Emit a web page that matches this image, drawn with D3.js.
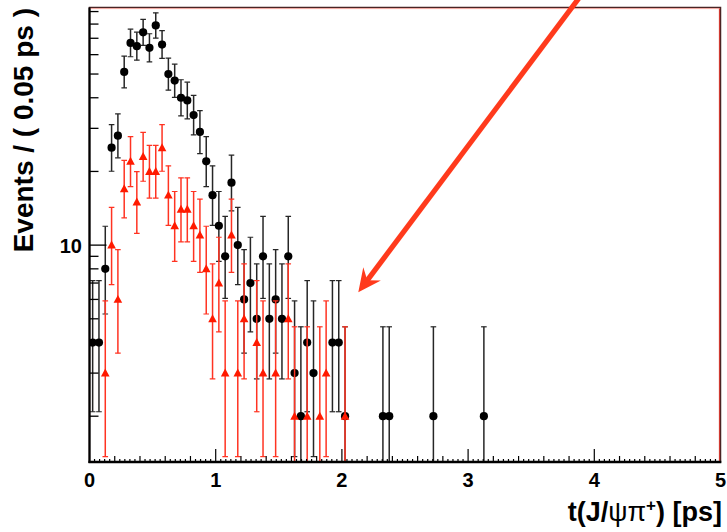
<!DOCTYPE html>
<html>
<head>
<meta charset="utf-8">
<script src="https://cdn.jsdelivr.net/npm/d3@7"></script>
<style>
html,body{margin:0;padding:0;background:#fff;}
svg{display:block;}
text{font-family:"Liberation Sans",Arial,Helvetica,sans-serif;font-weight:bold;fill:#000;}
</style>
</head>
<body>
<svg id="chart" width="727" height="532"></svg>
<script>
// ---- data (counts per 0.05 ps bin) ----
const blackT = [0.025,0.075,0.125,0.175,0.225,0.275,0.325,0.375,0.425,0.475,0.525,0.575,0.625,0.675,0.725,0.775,0.825,0.875,0.925,0.975,1.025,1.075,1.125,1.175,1.225,1.275,1.325,1.375,1.425,1.475,1.525,1.575,1.625,1.675,1.725,1.775,1.925,1.975,2.025,2.325,2.375,2.725,3.125];
const blackN = [4,4,8,25,28,51,67,65,74,64,79,66,50,47,40,39,34,29,22,16,12,9,18,10,6,7,5,9,5,6,5,9,3,2,4,3,4,4,2,2,2,2,2];
const redT = [0.125,0.175,0.225,0.275,0.325,0.375,0.425,0.475,0.525,0.575,0.625,0.675,0.725,0.775,0.825,0.875,0.925,0.975,1.025,1.075,1.125,1.175,1.225,1.325,1.375,1.475,1.575,1.625,1.725,1.825,1.875,2.025];
const redN = [3,10,6,17,22,15,23,20,20,25,16,12,14,14,12,11,8,5,7,3,11,3,5,4,3,3,5,2,2,2,3,2];
const xTickLabels = ["0","1","2","3","4","5"];
const yTickLabels = ["10"];
const yTitle = "Events / ( 0.05 ps )";

// ---- Poisson 68.27% central interval (as RooFit draws the points) ----
function poisCDF(k, mu){
  if (k < 0) return 0;
  let term = Math.exp(-mu), s = term;
  for (let i = 1; i <= k; i++){ term *= mu / i; s += term; }
  return s;
}
const ALPHA2 = 0.158655;
// f is positive below the root, negative above it
function bisect(f, lo, hi){
  for (let i = 0; i < 80; i++){ const m = (lo+hi)/2; if (f(m) > 0) lo = m; else hi = m; }
  return (lo+hi)/2;
}
function interval(n){
  const up = bisect(mu => poisCDF(n, mu) - ALPHA2, n, n + 10*Math.sqrt(n) + 10);
  const lo = n === 0 ? 0 : bisect(mu => poisCDF(n-1, mu) - (1 - ALPHA2), 0, n);
  return [lo, up];
}

// ---- layout ----
const svg = d3.select("#chart");
const L = 89.5, R = 720.5, T = 7.5, B = 462;
const x = d3.scaleLinear().domain([0,5]).range([L,R]);
const y = d3.scaleLog().domain([1.3, 93.5]).range([B,T]);

svg.append("defs").append("clipPath").attr("id","clip")
  .append("rect").attr("x",L).attr("y",T).attr("width",R-L).attr("height",B-T);

// frame (top/right)
svg.append("rect").attr("x",L).attr("y",T).attr("width",R-L).attr("height",B-T)
  .attr("fill","none").attr("stroke","#4a2424").attr("stroke-width",1.5);
svg.append("line").attr("x1",L).attr("x2",R-1.2).attr("y1",T+1.1).attr("y2",T+1.1)
  .attr("stroke","#f3a8a0").attr("stroke-width",1);
svg.append("line").attr("x1",R-1.1).attr("x2",R-1.1).attr("y1",T+1).attr("y2",B)
  .attr("stroke","#d02a20").attr("stroke-width",1);

const plot = svg.append("g").attr("clip-path","url(#clip)");

function drawSeries(ts, ns, color, barColor, shape){
  const pts = ts.map((t,i)=>({t, n:ns[i], iv:interval(ns[i])}));
  const g = plot.append("g");
  pts.forEach(p=>{
    const cx = x(p.t), y1 = y(Math.max(p.iv[0], 0.5)), y2 = y(p.iv[1]);
    g.append("line").attr("x1",cx).attr("x2",cx).attr("y1",y1).attr("y2",y2)
      .attr("stroke",barColor).attr("stroke-width",1.5);
    [p.iv[0] > 0.5 ? y(p.iv[0]) : null, y2].forEach(yy=>{
      if (yy === null) return;
      g.append("line").attr("x1",cx-2.8).attr("x2",cx+2.8).attr("y1",yy).attr("y2",yy)
        .attr("stroke",barColor).attr("stroke-width",1.2);
    });
  });
  pts.forEach(p=>{
    const cx = x(p.t), cy = y(p.n);
    if (shape === "circle"){
      g.append("circle").attr("cx",cx).attr("cy",cy).attr("r",4.1).attr("fill",color);
    } else {
      const s = 4.3;
      g.append("path").attr("d",`M${cx},${cy-s*1.05}L${cx+s},${cy+s*0.8}L${cx-s},${cy+s*0.8}Z`).attr("fill",color);
    }
  });
}
drawSeries(blackT, blackN, "#000", "#262626", "circle");
drawSeries(redT, redN, "#ff1a00", "#ff3322", "triangle");

// axes lines
svg.append("line").attr("x1",L).attr("x2",L).attr("y1",T).attr("y2",B+1)
  .attr("stroke","#000").attr("stroke-width",2.2);
svg.append("line").attr("x1",L-1).attr("x2",R+0.8).attr("y1",B).attr("y2",B)
  .attr("stroke","#000").attr("stroke-width",2.6);

// x ticks
const xt = svg.append("g");
d3.range(0, 5.0001, 0.04).forEach(v=>{
  const r5 = Math.round(v*25)/25;
  const isMaj = Math.abs(r5 - Math.round(r5)) < 1e-6;
  const isMid = Math.abs(r5*5 - Math.round(r5*5)) < 1e-6;
  const len = isMaj ? 13 : (isMid ? 6 : 3);
  if (r5 <= 0 || r5 >= 5) return;
  xt.append("line").attr("x1",x(r5)).attr("x2",x(r5)).attr("y1",B).attr("y2",B-len)
    .attr("stroke","#000").attr("stroke-width",1.2);
});
xTickLabels.forEach(lab=>{
  svg.append("text").attr("x",x(+lab)).attr("y",487).attr("text-anchor","middle")
    .attr("font-size",20).text(lab);
});

// y ticks
const yt = svg.append("g");
[2,3,4,5,6,7,8,9,10,20,30,40,50,60,70,80,90].forEach(v=>{
  const len = v === 10 ? 17 : 9;
  yt.append("line").attr("x1",L).attr("x2",L+len).attr("y1",y(v)).attr("y2",y(v))
    .attr("stroke","#000").attr("stroke-width",1.3);
});
yTickLabels.forEach(lab=>{
  svg.append("text").attr("x",82).attr("y",y(+lab)+8).attr("text-anchor","end")
    .attr("font-size",20).text(lab);
});

// titles
const xt2 = svg.append("text").attr("x",722).attr("y",521).attr("text-anchor","end").attr("font-size",27);
xt2.append("tspan").text("t(J/");
xt2.append("tspan").attr("font-weight","normal").text("ψπ");
xt2.append("tspan").attr("font-size",17).attr("dy",-10).text("+");
xt2.append("tspan").attr("dy",10).text(") [ps]");

svg.append("text").attr("transform","translate(33,8) rotate(-90)").attr("text-anchor","end")
  .attr("font-size",28).text(yTitle);

// annotation arrow
const tip = [358.3, 292.3], u = [-0.6, 0.8], n = [0.8, 0.6];
const tail = [tip[0] - 390*u[0], tip[1] - 390*u[1]];
const along = (d, w) => [tip[0] - d*u[0] + w*n[0], tip[1] - d*u[1] + w*n[1]];
svg.append("line").attr("x1",tail[0]).attr("y1",tail[1])
  .attr("x2",along(14,0)[0]).attr("y2",along(14,0)[1])
  .attr("stroke","#ff3a1c").attr("stroke-width",5.2);
svg.append("path").attr("d", "M" + [tip, along(23,-11), along(15,0), along(23,11)].map(p=>p.join(",")).join("L") + "Z")
  .attr("fill","#ff3a1c");
</script>
</body>
</html>
